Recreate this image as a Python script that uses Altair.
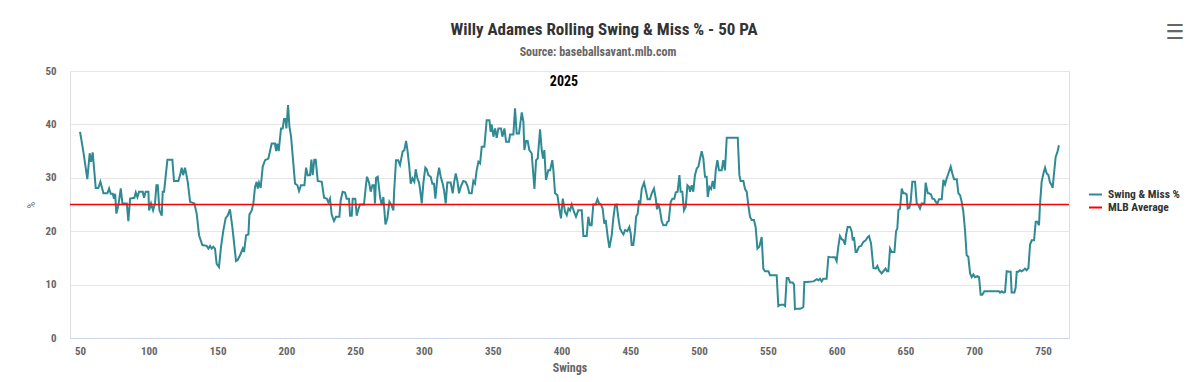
import altair as alt
import pandas as pd

# ---- data ----
swings = [
    50, 52.4, 55.3, 57, 58, 59.2, 61.4, 63.3, 64.8, 67, 69.9, 71.1, 72.3, 73.8, 74.7, 75.5, 76.4, 77.9, 79.6, 80.8,
    84, 85.1, 86.4, 89.5, 90.5, 91.7, 92.9, 95.6, 96.5, 97.7, 99.7, 100.2, 101.6, 103.1, 104.5, 105.5, 106.5, 107.7, 109.4, 110.1,
    111.1, 113.5, 117.1, 118.3, 121.5, 122.7, 123.9, 124.9, 126.3, 128.3, 130, 133.1, 134.8, 136.5, 138.9, 142.1, 143.3, 144.5, 145.7, 146.9,
    148.1, 149.3, 151, 152.5, 154.2, 155.9, 157.3, 159, 160.7, 163.4, 164.6, 166.3, 168.3, 169.2, 170.7, 172.4, 173.1, 174.8, 176, 177.2,
    178.4, 179.2, 180.1, 181.3, 182.8, 184.5, 186.9, 189.3, 191.7, 192.5, 193.4, 194.4, 196.1, 197.3, 198.3, 199.3, 200, 201.2, 202.2, 203.4,
    206.3, 208, 209.2, 210.6, 213.1, 214.3, 215.5, 217.2, 218.2, 219.1, 220.3, 221.3, 222.8, 225.7, 227.4, 229.3, 230.5, 231.7, 232.9, 234.6,
    236.1, 238.5, 239.5, 240.9, 242.6, 243.8, 245.5, 246.3, 247.5, 248.2, 250.1, 251.1, 252.3, 253.5, 256.4, 257.7, 258.6, 260.1, 261.3, 262.5,
    263.7, 264.4, 265.2, 266.4, 268.1, 269.3, 270.5, 272, 273.4, 274.9, 276.3, 277.8, 278.3, 279.7, 281.2, 282.6, 284.5, 285.8, 287, 288,
    289.2, 290.4, 291.6, 293, 294, 295.2, 296.4, 297.1, 298.4, 299.6, 301, 302, 303.2, 304.9, 306.1, 307.3, 308.3, 309.7, 311, 312.2,
    313.4, 314.6, 315.8, 317, 319.4, 320.9, 321.9, 323.1, 324.3, 325.5, 326.7, 328.6, 330.3, 331.6, 333, 334.7, 335.9, 337.1, 338.3, 339.6,
    340.8, 342, 343.9, 345.6, 347.6, 348.5, 349.2, 350.5, 351.7, 352.9, 354.1, 356, 357, 358.5, 359.7, 361.8, 362.6, 365, 366.2, 367.4,
    369.1, 371.1, 372.3, 373, 374.2, 375.4, 376.6, 378.3, 380.3, 381.5, 382.7, 384.4, 385.6, 386.6, 387.5, 388.7, 390.4, 391.7, 393.3, 394.1,
    395.3, 397, 398.4, 399.6, 400.9, 402.6, 403.8, 405, 406.2, 407.4, 409.1, 410.5, 412.2, 414.7, 415.9, 418.3, 419.5, 420.7, 421.9, 423.1,
    424.8, 426.1, 427.3, 428.7, 429.9, 431.1, 432.1, 433.6, 434.8, 436.5, 437.7, 438.9, 440.1, 441.3, 442.5, 443.7, 445, 446.2, 447.9, 449.3,
    450.3, 451, 452.2, 453.4, 454.2, 455.4, 456.3, 457.1, 458.3, 460, 461.2, 462.6, 464.3, 465.6, 467.2, 468.5, 469.4, 470.4, 471.6, 472.8,
    474, 476, 476.9, 477.9, 479.4, 480.6, 482, 483, 484.4, 485.7, 486.6, 487.8, 489, 490.3, 491.5, 492.7, 493.4, 494.6, 495.8, 497,
    498.3, 499.5, 500.7, 501.9, 503.1, 504.3, 505.5, 506.3, 507.5, 508.7, 509.9, 511.1, 512.1, 513.3, 514.5, 516.4, 517.6, 518.8, 520.1, 528.1,
    529.3, 530.2, 532.2, 533.4, 534.6, 535.8, 537, 538.2, 539.9, 541.1, 542.4, 543.8, 545.5, 546.7, 547.9, 550.4, 551.6, 556.4, 557.6, 559.3,
    561.3, 562.5, 563.7, 564.9, 566.1, 568, 569, 569.7, 570.9, 573.4, 574.6, 575.8, 576.5, 578.2, 583.1, 584.3, 585.5, 586.7, 587.9, 589.1,
    590.3, 592.7, 594, 596.4, 598.8, 600, 601.2, 602.4, 603.7, 604.9, 606.1, 606.8, 608, 609.7, 610.9, 611.7, 612.6, 613.8, 614.6, 616.3,
    617.7, 619.4, 621.1, 622.6, 623.5, 625, 626.7, 628.4, 629.6, 630.8, 632.7, 634, 635.6, 636.6, 637.6, 638.8, 640, 642, 643.2, 644.1,
    644.9, 646.1, 647.3, 648.5, 649.7, 650.9, 651.6, 652.8, 653.8, 655, 657, 658.2, 659.4, 660.6, 661.8, 663.8, 664.7, 666.2, 667.1, 668.6,
    669.6, 671, 672, 673.2, 674.4, 676.4, 677.6, 678.8, 680, 681.2, 682.9, 684.1, 685.3, 687.3, 688.5, 689.7, 690.9, 692.1, 693.3, 694.5,
    695.7, 697, 698.2, 699.4, 700.6, 702.3, 703.5, 704.7, 705.9, 707.4, 718, 718.8, 720, 721.2, 722.4, 723.6, 725.3, 726.5, 727.2, 729.2,
    730.1, 730.9, 732.1, 733.3, 734.5, 735.7, 736.9, 738.1, 739.4, 740.6, 741.8, 743.5, 744.7, 745.9, 747.1, 747.8, 749, 750.3, 751.5, 752.7,
    753.9, 755.1, 756.3, 757, 758, 759.2, 760.4, 761.6,
]
swing_miss_pct = [
    38.6, 34.9, 29.75, 34.6, 33, 34.75, 28.1, 28.1, 29.25, 27.1, 27.1, 28, 27, 27, 26.1, 27, 23.3, 24.9, 28, 25.2,
    25.2, 21.9, 26.1, 26.25, 27.25, 26.4, 27.4, 27.4, 26.25, 27.4, 27.4, 23.9, 25.2, 23.9, 25.2, 28.6, 28.6, 23.9, 22.9, 27.4,
    27.4, 33.4, 33.4, 29.4, 29.4, 30.5, 31.9, 30.5, 31.9, 29.25, 25.5, 25.2, 23.3, 19.25, 17.4, 17.25, 16.75, 17.25, 16.75, 17.1,
    16.75, 13.9, 13.3, 17.1, 20.2, 22.5, 22.9, 24.1, 20.8, 14.4, 14.6, 15.5, 16.75, 16.1, 19.25, 19.4, 23.1, 23.9, 25.2, 28.3,
    29.25, 28, 29.1, 28.1, 32.1, 33.3, 33.6, 36.4, 36.4, 35, 36.4, 35, 39.25, 39.25, 41, 41, 39.25, 43.6, 39.6, 37.7,
    28.9, 28.6, 27.5, 28.6, 28.6, 31.9, 30.5, 30.5, 33.4, 30.5, 33.4, 33.4, 29.4, 29.25, 26.25, 26.1, 25.4, 26.1, 23.1, 21.9,
    22.7, 22.7, 25.8, 27.4, 27.25, 26.1, 26.1, 22.9, 22.9, 26.1, 26.1, 22.9, 24.1, 25, 25, 28.3, 30.2, 29.1, 27.4, 28.6,
    28.6, 25.2, 30, 30.2, 26.4, 24.9, 26.4, 21.25, 22.4, 25.5, 24.9, 23.9, 27.4, 33.3, 33.3, 32.4, 34.9, 35.2, 36.9, 35.2,
    32.4, 28.9, 29.9, 29.25, 31.6, 29.9, 29.1, 28, 25.2, 29.1, 31.9, 31.6, 30.5, 30.2, 28.9, 28.9, 26.1, 29.9, 31.9, 30.2,
    29.1, 27.7, 25.2, 29.1, 29.1, 27.1, 29.1, 30.8, 29.4, 27.1, 28.3, 29.4, 29.25, 28.5, 27.1, 27.1, 29.4, 28.9, 31.4, 33,
    32.7, 35.8, 35.8, 40.8, 40.8, 38.6, 40, 37.7, 39.25, 37.5, 39.25, 39.25, 37.7, 39.25, 36.75, 36.75, 38.1, 38.1, 43, 38.3,
    38.3, 42.25, 40.5, 35.2, 36.9, 36.9, 35.2, 34.6, 27.9, 33.3, 33.6, 39.1, 35.2, 33.6, 35.2, 29.6, 31.4, 31.4, 33.3, 31.4,
    27.1, 26.75, 24.25, 22.4, 26.1, 23.6, 23, 24.25, 23.9, 25, 23.6, 22.7, 23.9, 23.9, 19.1, 19.1, 22.7, 21.1, 21.1, 25,
    25, 26, 25.2, 25, 24.25, 21.4, 22.1, 18.9, 16.9, 19.25, 22.5, 24.9, 25, 22.5, 20.5, 19.9, 19.4, 20.2, 20, 20.8,
    19.6, 17.4, 17.4, 20, 22.7, 23.3, 25.8, 24.9, 27.9, 29.1, 27.7, 26, 26, 27.1, 28, 26.1, 24.1, 25.2, 23.9, 21.9,
    21.1, 21.1, 21.75, 21.9, 25.5, 26.1, 26.1, 27.25, 27.4, 30.5, 27.4, 27.4, 23.9, 24.6, 28.6, 28.3, 27.4, 28.6, 27.4, 30.5,
    31.75, 32.1, 33.6, 35, 33.6, 30.2, 30.2, 26.4, 28.3, 27.9, 29.4, 27.9, 31.4, 33.3, 31.4, 31.4, 33.3, 31.4, 37.5, 37.5,
    30.5, 29.4, 29.4, 27.9, 27.4, 24.9, 22.7, 22.1, 22.1, 20.8, 16.75, 17.1, 18.9, 13, 12.5, 12.5, 11.75, 11.75, 6, 6.25,
    6.25, 6, 11.25, 11.25, 10.4, 10.4, 10, 5.4, 5.5, 5.5, 5.6, 5.8, 10.5, 10.5, 10.6, 10.8, 11, 10.8, 11.1, 10.6,
    11.1, 11.1, 15.2, 15.1, 15.1, 14.4, 17.1, 19.1, 18.5, 18.3, 17.5, 19.25, 20.8, 20.8, 20, 18.3, 18.9, 16.1, 16.1, 17.1,
    17.25, 18, 18.3, 18.9, 19.1, 17.7, 13.1, 13, 13.5, 12.7, 12.1, 12.5, 13, 12.5, 12.5, 16.75, 16.1, 16.1, 20, 20.5,
    23.9, 24.25, 28, 27.1, 27.1, 26.9, 24.25, 24.4, 25.5, 29.25, 29.25, 25.2, 24.9, 24.25, 25.2, 25.2, 29.1, 27.1, 27.1, 26.9,
    26.1, 26, 25.5, 25.2, 26, 26, 29.6, 28.75, 29.9, 30.8, 32.1, 30.8, 29.75, 29.75, 27.1, 26.75, 25.5, 23.6, 20.2, 15.5,
    15.2, 12.1, 11.4, 11.9, 11.4, 11.6, 11.4, 8.1, 8.1, 8.75, 8.75, 8.5, 8.75, 8.5, 8.6, 12.5, 12.4, 12.4, 8.5, 8.5,
    9.4, 12.4, 12.4, 12.7, 12.5, 12.7, 13, 12.7, 13.1, 17.5, 18.3, 18.3, 21.75, 21.75, 21.1, 24.9, 29.25, 30.8, 31.9, 30.8,
    30.5, 29.1, 28.6, 28.1, 30.8, 33.9, 34.75, 36.1,
]
mlb_average = [25.0]
series_names = ["Swing & Miss %", "MLB Average"]
series_colors = ["#2f8a94", "#ff0000"]
x_tick_values = [50, 100, 150, 200, 250, 300, 350, 400, 450, 500, 550, 600, 650, 700, 750]
y_tick_values = [0, 10, 20, 30, 40, 50]
season_label = ["2025"]
title_text = ["Willy Adames Rolling Swing & Miss % - 50 PA"]
subtitle_text = ["Source: baseballsavant.mlb.com"]

FONT = "Roboto Condensed, Liberation Sans Narrow, DejaVu Sans Condensed, Roboto, sans-serif"

line_df = pd.DataFrame({"Swings": swings, "value": swing_miss_pct, "series": series_names[0]})
avg_df = pd.DataFrame({"value": mlb_average, "series": [series_names[1]]})

color = alt.Color(
    "series:N",
    scale=alt.Scale(domain=series_names, range=series_colors),
    legend=alt.Legend(
        title=None, orient="none", legendX=1018, legendY=116,
        symbolType="stroke", symbolStrokeWidth=2, symbolSize=169,
        labelFont=FONT, labelFontSize=11.5, labelFontWeight="bold", labelColor="#333333",
        rowPadding=0, padding=0, labelOffset=5,
    ),
)

x = alt.X(
    "Swings:Q",
    scale=alt.Scale(domain=[42.7, 768.9], nice=False, zero=False),
    axis=alt.Axis(
        values=x_tick_values, title="Swings", grid=False, domainColor="#ccd6eb", domainWidth=1,
        ticks=False, labelPadding=7, labelFont=FONT, labelFontSize=11, labelFontWeight="bold",
        labelColor="#666666", titleFont=FONT, titleFontSize=12, titleFontWeight="bold",
        titleColor="#666666", titlePadding=6, labelFlush=False,
    ),
)
y = alt.Y(
    "value:Q",
    scale=alt.Scale(domain=[0, 50], nice=False),
    axis=alt.Axis(
        values=y_tick_values, title="%", grid=True, gridColor="#e6e6e6", gridWidth=1, domain=False,
        ticks=False, labelPadding=14, labelFont=FONT, labelFontSize=11, labelFontWeight="bold",
        labelColor="#666666", titleFont=FONT, titleFontSize=10, titleFontWeight="normal",
        titleColor="#666666", titlePadding=8,
    ),
)

line = alt.Chart(line_df).mark_line(strokeWidth=2).encode(x=x, y=y, color=color)
rule = alt.Chart(avg_df).mark_rule(strokeWidth=1.5).encode(y=alt.Y("value:Q"), color=color)

year = alt.Chart(pd.DataFrame({"t": season_label})).mark_text(
    font=FONT, fontSize=14, fontWeight="bold", color="#000000", baseline="middle"
).encode(text="t:N", x=alt.value(494), y=alt.value(11))

title = alt.Chart(pd.DataFrame({"t": title_text})).mark_text(
    font=FONT, fontSize=17, fontWeight="bold", color="#333333", baseline="middle", align="center"
).encode(text="t:N", x=alt.value(534), y=alt.value(-41))

subtitle = alt.Chart(pd.DataFrame({"t": subtitle_text})).mark_text(
    font=FONT, fontSize=12, fontWeight="bold", color="#666666", baseline="middle", align="center"
).encode(text="t:N", x=alt.value(528), y=alt.value(-19))

menu = alt.Chart(pd.DataFrame({"t": ["☰"]})).mark_text(
    font="DejaVu Sans", fontSize=21, fontWeight="bold", color="#666666", baseline="middle"
).encode(text="t:N", x=alt.value(1105), y=alt.value(-38))

chart = alt.layer(line, rule, year, title, subtitle, menu).properties(
    width=999,
    height=267,
    autosize=alt.AutoSizeParams(type="none"),
    padding={"left": 62, "top": 63, "right": 123, "bottom": 40},
).configure_view(stroke=None).configure(background="#ffffff")

chart.save("out.html", embed_options={"renderer": "svg", "actions": False})
